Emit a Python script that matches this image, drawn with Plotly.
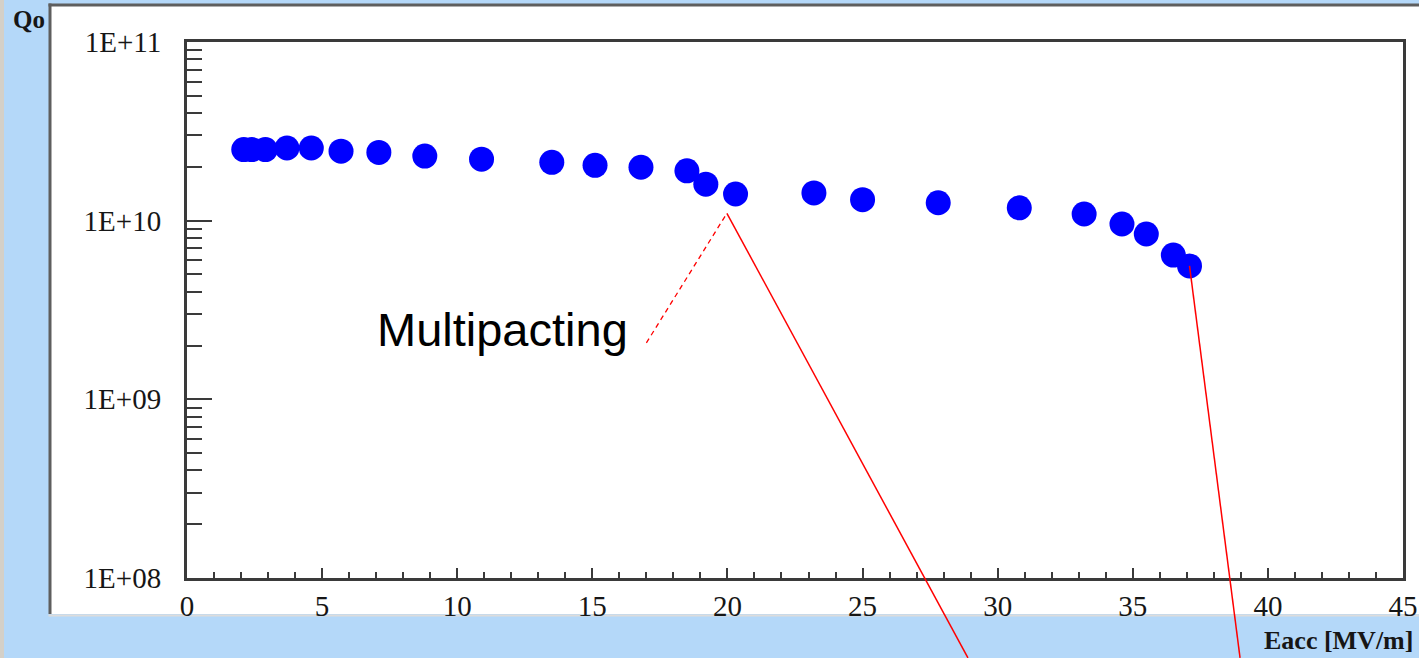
import math
import plotly.graph_objects as go

# Accelerating gradient (MV/m) and unloaded quality factor of the cavity test
eacc = [2.1, 2.4, 2.9, 3.7, 4.6, 5.7, 7.1, 8.8, 10.9, 13.5, 15.1, 16.8, 18.5,
        19.2, 20.3, 23.2, 25.0, 27.8, 30.8, 33.2, 34.6, 35.5, 36.5, 37.1]
q0 = [2.50e10, 2.50e10, 2.50e10, 2.55e10, 2.55e10, 2.45e10, 2.41e10, 2.30e10,
      2.21e10, 2.12e10, 2.04e10, 1.99e10, 1.90e10, 1.60e10, 1.41e10, 1.43e10,
      1.31e10, 1.26e10, 1.18e10, 1.09e10, 9.58e9, 8.42e9, 6.42e9, 5.58e9]

y_tickvals = [1e8, 1e9, 1e10, 1e11]
y_ticktext = ["1E+08", "1E+09", "1E+10", "1E+11"]
x_tickvals = [0, 5, 10, 15, 20, 25, 30, 35, 40, 45]

X_RANGE = (0, 45)
Y_RANGE = (8, 11)  # log10 decades

W, H = 1419, 658
ML, MR, MT, MB = 187, 16, 42, 80
PW, PH = W - ML - MR, H - MT - MB

BLUE_BG = "#b4d8f9"
FRAME = "#3a3a3a"
TXT = "#161616"


def pxx(p):
    """Horizontal pixel -> paper fraction."""
    return (p - ML) / PW


def pxy(p):
    """Vertical pixel (from top) -> paper fraction."""
    return (H - MB - p) / PH


def dx(x):
    """Data x -> paper fraction."""
    return (x - X_RANGE[0]) / (X_RANGE[1] - X_RANGE[0])


def dy(q):
    """Data Q (log axis) -> paper fraction."""
    return (math.log10(q) - Y_RANGE[0]) / (Y_RANGE[1] - Y_RANGE[0])


fig = go.Figure()
fig.add_trace(go.Scatter(
    x=eacc, y=q0, mode="markers",
    marker=dict(color="#0000ff", size=25, symbol="circle", line=dict(width=0)),
    showlegend=False, hoverinfo="x+y",
))

minor_y = [k * 10 ** e for e in (8, 9, 10) for k in range(2, 10)]

shapes = [
    # window strip on the far left
    dict(type="rect", xref="paper", yref="paper", layer="below",
         x0=pxx(-5), x1=pxx(4), y0=pxy(-5), y1=pxy(H + 5),
         fillcolor="#d4d0c8", line=dict(width=0)),
    # white chart panel
    dict(type="rect", xref="paper", yref="paper", layer="below",
         x0=pxx(51), x1=pxx(W + 10), y0=pxy(614), y1=pxy(5),
         fillcolor="white", line=dict(width=0)),
    # panel bevel: dark top/left, light bottom
    dict(type="line", xref="paper", yref="paper", layer="below",
         x0=pxx(50), x1=pxx(50), y0=pxy(614), y1=pxy(3.5),
         line=dict(color="#5e5e5e", width=3)),
    dict(type="line", xref="paper", yref="paper", layer="below",
         x0=pxx(48.5), x1=pxx(W + 10), y0=pxy(5), y1=pxy(5),
         line=dict(color="#5e5e5e", width=3)),
    dict(type="line", xref="paper", yref="paper", layer="below",
         x0=pxx(48.5), x1=pxx(W + 10), y0=pxy(615.5), y1=pxy(615.5),
         line=dict(color="#dcdcdc", width=2)),
]

# Multipacting pointer: dashed lead from the label, solid line down off the chart
apex = (19.98, 1.10e10)
label_end = (17.0, 2.07e9)
shapes.append(dict(type="line", xref="paper", yref="paper", layer="above",
                   x0=dx(label_end[0]), y0=dy(label_end[1]),
                   x1=dx(apex[0]), y1=dy(apex[1]),
                   line=dict(color="red", width=1.3, dash="5px,4px")))
shapes.append(dict(type="line", xref="paper", yref="paper", layer="above",
                   x0=dx(apex[0]), y0=dy(apex[1]),
                   x1=dx(28.9), y1=dy(3.57e7),
                   line=dict(color="red", width=1.5)))
# Quench pointer from the last measured point
shapes.append(dict(type="line", xref="paper", yref="paper", layer="above",
                   x0=dx(eacc[-1]), y0=dy(q0[-1]),
                   x1=dx(38.97), y1=dy(3.57e7),
                   line=dict(color="red", width=1.5)))

annotations = [
    dict(text="Multipacting", xref="x", yref="y", x=6.95, y=math.log10(2.47e9),
         xanchor="left", yanchor="middle", showarrow=False,
         font=dict(family="Liberation Sans, Arial", size=47, color="black")),
    dict(text="<b>Qo</b>", xref="paper", yref="paper", x=pxx(11), y=pxy(20),
         xanchor="left", yanchor="middle", showarrow=False,
         font=dict(family="Liberation Serif, Times New Roman", size=25, color=TXT)),
    dict(text="<b>Eacc [MV/m]</b>", xref="paper", yref="paper", x=pxx(1415), y=pxy(640),
         xanchor="right", yanchor="middle", showarrow=False,
         font=dict(family="Liberation Serif, Times New Roman", size=26, color=TXT)),
]

tick_font = dict(family="Liberation Serif, Times New Roman", size=29, color=TXT)

fig.update_layout(
    width=W, height=H, autosize=False,
    margin=dict(l=ML, r=MR, t=MT, b=MB, pad=0, autoexpand=False),
    paper_bgcolor=BLUE_BG, plot_bgcolor="white",
    shapes=shapes, annotations=annotations,
    xaxis=dict(
        range=list(X_RANGE), tickvals=x_tickvals, ticktext=[str(v) for v in x_tickvals],
        ticks="inside", ticklen=10, tickwidth=2, tickcolor=FRAME,
        minor=dict(ticks="inside", dtick=1, ticklen=6, tickwidth=2, tickcolor=FRAME),
        showline=True, mirror=True, linecolor=FRAME, linewidth=3,
        showgrid=False, zeroline=False, tickfont=tick_font, ticklabelstandoff=0,
        automargin=False,
    ),
    yaxis=dict(
        type="log", range=list(Y_RANGE), tickvals=y_tickvals, ticktext=y_ticktext,
        ticks="inside", ticklen=25, tickwidth=2, tickcolor=FRAME,
        minor=dict(ticks="inside", tickvals=minor_y, ticklen=15, tickwidth=2,
                   tickcolor=FRAME, showgrid=False),
        showline=True, mirror=True, linecolor=FRAME, linewidth=3,
        showgrid=False, zeroline=False, tickfont=tick_font, ticklabelstandoff=17,
        automargin=False,
    ),
)

fig.write_html("out.html")
